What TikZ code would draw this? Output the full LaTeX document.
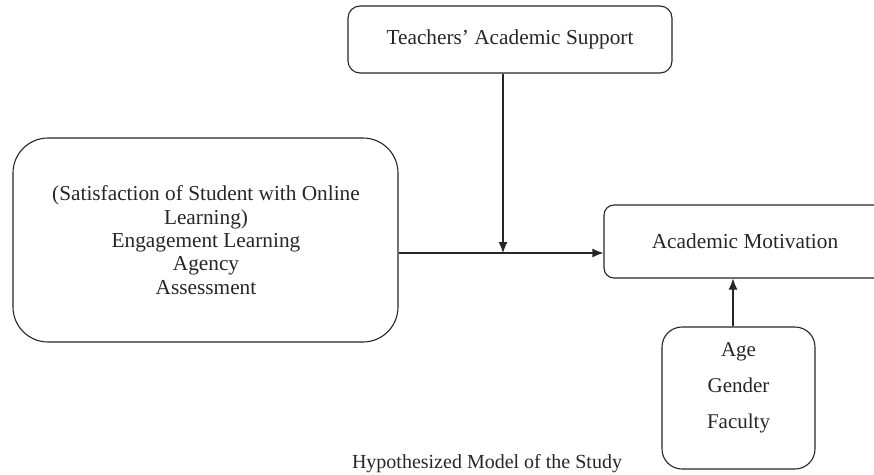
\documentclass[tikz,border=0pt]{standalone}
\usepackage{fontspec}
\setmainfont{Liberation Serif}
\usetikzlibrary{arrows.meta}
\begin{document}
\begin{tikzpicture}[x=1pt,y=-1pt,
  box/.style={draw=black!85, line width=1.1pt, rectangle, inner sep=0pt},
  txt/.style={font=\fontsize{21.3}{23.3}\selectfont, align=center, text=black!85, inner sep=0pt},
  conn/.style={draw=black!85, line width=1.1pt, -{Latex[length=11pt,width=9pt]}}]
\useasboundingbox (0,0) rectangle (874,474);
\clip (0,0) rectangle (874,474);
\node[box, rounded corners=12pt, minimum width=324pt, minimum height=67pt] (top) at (510,39.5) {};
\node[txt] (toptxt) at (510,39.5) {Teachers’ Academic Support};
\node[box, rounded corners=35pt, minimum width=385pt, minimum height=204pt] (left) at (205.5,240) {};
\node[txt] (lefttxt) at (206,240) {(Satisfaction of Student with Online\\Learning)\\Engagement Learning\\Agency\\Assessment};
\node[box, rounded corners=10pt, minimum width=282pt, minimum height=73pt] (mot) at (745,241.5) {};
\node[txt] (mottxt) at (745,241.5) {Academic Motivation};
\node[box, rounded corners=20pt, minimum width=153pt, minimum height=142pt] (bot) at (738.5,398) {};
\node[txt, font=\fontsize{21}{36}\selectfont] (bottxt) at (738.5,388) {Age\\Gender\\Faculty};
\node[txt, font=\fontsize{20}{24}\selectfont] (cap) at (487,464) {Hypothesized Model of the Study};
\coordinate (j) at (503,253);
\draw[conn] (top.south -| j) -- (j);
\draw[conn] (left.east |- j) -- (mot.west |- j);
\draw[conn] (bot.north -| 733,0) -- (mot.south -| 733,0);
\end{tikzpicture}
\end{document}
